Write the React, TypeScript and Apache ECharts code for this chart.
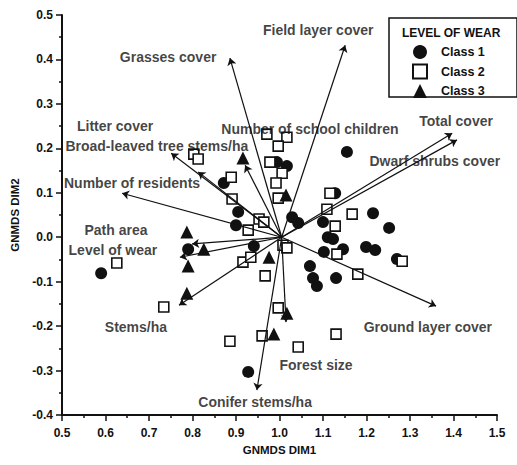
import React, { useEffect, useRef } from "react";
import * as echarts from "echarts";

const class1: number[][] = [
  [0.59, -0.081], [0.928, -0.303], [0.79, -0.027], [0.941, -0.02], [0.905, 0.057],
  [0.9, 0.027], [0.872, 0.122], [0.994, 0.169], [1.017, 0.16], [1.155, 0.192],
  [1.128, 0.099], [1.215, 0.054], [1.252, 0.021], [1.029, 0.045], [1.043, 0.032],
  [1.1, 0.034], [1.111, 0.0], [1.123, -0.004], [1.146, -0.027], [1.102, -0.033],
  [1.199, -0.022], [1.22, -0.029], [1.27, -0.049], [1.07, -0.065], [1.077, -0.092],
  [1.086, -0.11], [1.13, -0.092],
];

const class2: number[][] = [
  [0.626, -0.058], [0.734, -0.157], [0.886, -0.234], [0.96, -0.222], [0.997, -0.159],
  [0.967, -0.087], [0.916, -0.056], [0.934, -0.045], [0.928, 0.016], [0.953, 0.041],
  [0.964, 0.034], [0.891, 0.086], [0.889, 0.135], [0.803, 0.187], [0.813, 0.176],
  [0.971, 0.232], [1.017, 0.225], [0.997, 0.205], [0.978, 0.169], [1.006, 0.144],
  [0.992, 0.122], [0.997, 0.088], [1.116, 0.099], [1.109, 0.063], [1.167, 0.052],
  [1.128, 0.025], [1.132, -0.038], [1.282, -0.054], [1.18, -0.083], [1.13, -0.218],
  [1.043, -0.247], [1.008, -0.018], [1.017, -0.024],
];

const class3: number[][] = [
  [0.787, 0.012], [0.826, -0.027], [0.79, -0.065], [0.787, -0.126], [0.976, -0.045],
  [0.916, 0.178], [1.015, 0.095], [1.017, -0.171], [0.987, -0.218],
];

const vectorOrigin: number[] = [1.005, 0.0];

const vectorEnds: number[][] = [
  [1.151, 0.432], [0.886, 0.403], [0.751, 0.189], [0.813, 0.147], [0.921, 0.162],
  [0.638, 0.099], [0.799, -0.015], [0.771, -0.045], [0.769, -0.153], [0.948, -0.344],
  [1.015, -0.191], [1.36, -0.155], [1.397, 0.234], [1.408, 0.219],
];

const variableNames: string[] = [
  "Field layer cover", "Grasses cover", "Litter cover", "Broad-leaved tree stems/ha",
  "Number of school children", "Total cover", "Dwarf shrubs cover", "Number of residents",
  "Path area", "Level of wear", "Stems/ha", "Ground layer cover", "Forest size", "Conifer stems/ha",
];

const labelPositions: number[][] = [
  [1.089, 0.466], [0.744, 0.405], [0.622, 0.25], [0.718, 0.205],
  [1.07, 0.243], [1.406, 0.261], [1.357, 0.171], [0.661, 0.122],
  [0.624, 0.016], [0.617, -0.029], [0.67, -0.202], [1.341, -0.202], [1.084, -0.288], [0.944, -0.371],
];

const classNames: string[] = ["Class 1", "Class 2", "Class 3"];

const FONT = "'Liberation Sans', Arial, Helvetica, sans-serif";

export default function App() {
  const ref = useRef<HTMLDivElement>(null);

  useEffect(() => {
    if (!ref.current) return;
    const chart = echarts.init(ref.current, undefined, { renderer: "svg" });
    const fmt = (v: number) => (Math.abs(v) < 1e-9 ? "0.0" : v.toFixed(1));
    const option: any = {
      animation: false,
      backgroundColor: "#fff",
      textStyle: { fontFamily: FONT },
      grid: { left: 62, top: 15, right: 20, bottom: 50 },
      title: {
        text: "LEVEL OF WEAR",
        left: 402,
        top: 27,
        padding: 0,
        textStyle: { fontSize: 12, fontWeight: "bold", color: "#111", fontFamily: FONT },
      },
      legend: {
        data: classNames,
        orient: "vertical",
        left: 412,
        top: 45,
        padding: 0,
        itemWidth: 14,
        itemHeight: 14,
        itemGap: 4.5,
        symbolKeepAspect: true,
        textStyle: {
          fontSize: 12.5,
          fontWeight: "bold",
          color: "#111",
          fontFamily: FONT,
          padding: [0, 0, 0, 9],
        },
      },
      graphic: [
        {
          type: "rect",
          z: 0,
          shape: { x: 389, y: 18, width: 128, height: 79 },
          style: { fill: "#fff", stroke: "#111", lineWidth: 1.5 },
        },
      ],
      xAxis: {
        type: "value",
        min: 0.5,
        max: 1.5,
        interval: 0.1,
        name: "GNMDS DIM1",
        nameLocation: "middle",
        nameGap: 27,
        nameTextStyle: { fontSize: 11.5, fontWeight: "bold", color: "#111", fontFamily: FONT },
        axisLine: { show: true, onZero: false, lineStyle: { color: "#111", width: 2 } },
        axisTick: { show: true, inside: false, length: 6, lineStyle: { color: "#111", width: 1.5 } },
        minorTick: { show: true, splitNumber: 2, length: 3, lineStyle: { color: "#111", width: 1.5 } },
        splitLine: { show: false },
        axisLabel: { formatter: fmt, fontSize: 12, fontWeight: "bold", color: "#111", margin: 12, fontFamily: FONT },
      },
      yAxis: {
        type: "value",
        min: -0.4,
        max: 0.5,
        interval: 0.1,
        name: "GNMDS DIM2",
        nameLocation: "middle",
        nameGap: 40,
        nameRotate: 90,
        nameTextStyle: { fontSize: 11.5, fontWeight: "bold", color: "#111", fontFamily: FONT },
        axisLine: { show: true, onZero: false, lineStyle: { color: "#111", width: 2 } },
        axisTick: { show: true, inside: false, length: 6, lineStyle: { color: "#111", width: 1.5 } },
        minorTick: { show: true, splitNumber: 2, length: 3, lineStyle: { color: "#111", width: 1.5 } },
        splitLine: { show: false },
        axisLabel: { formatter: fmt, fontSize: 12, fontWeight: "bold", color: "#111", margin: 9, fontFamily: FONT },
      },
      series: [
        {
          name: "Class 1",
          type: "scatter",
          symbol: "circle",
          symbolSize: 12,
          z: 2,
          itemStyle: { color: "#111", opacity: 1 },
          data: class1,
        },
        {
          name: "Class 2",
          type: "scatter",
          symbol: "rect",
          symbolSize: 10,
          z: 2,
          itemStyle: { color: "#fff", borderColor: "#111", borderWidth: 1.6, opacity: 1 },
          data: class2,
        },
        {
          name: "Class 3",
          type: "scatter",
          symbol: "triangle",
          symbolSize: 13,
          z: 2,
          itemStyle: { color: "#111", opacity: 1 },
          data: class3,
        },
        {
          name: "vectors",
          type: "lines",
          coordinateSystem: "cartesian2d",
          z: 3,
          silent: true,
          symbol: ["none", "arrow"],
          symbolSize: 7,
          lineStyle: { color: "#111", width: 1.2, opacity: 1, curveness: 0 },
          data: vectorEnds.map((e) => ({ coords: [vectorOrigin, e] })),
        },
        {
          name: "variable labels",
          type: "scatter",
          symbolSize: 0,
          z: 4,
          silent: true,
          label: {
            show: true,
            position: "inside",
            formatter: (p: any) => p.name,
            fontSize: 14,
            fontWeight: "bold",
            color: "#111",
            fontFamily: FONT,
          },
          data: variableNames.map((n, i) => ({ name: n, value: labelPositions[i] })),
        },
      ],
    };
    chart.setOption(option);
    return () => chart.dispose();
  }, []);

  return (
    <div
      ref={ref}
      style={{ position: "absolute", left: 0, top: 0, width: 517, height: 465 }}
    />
  );
}
